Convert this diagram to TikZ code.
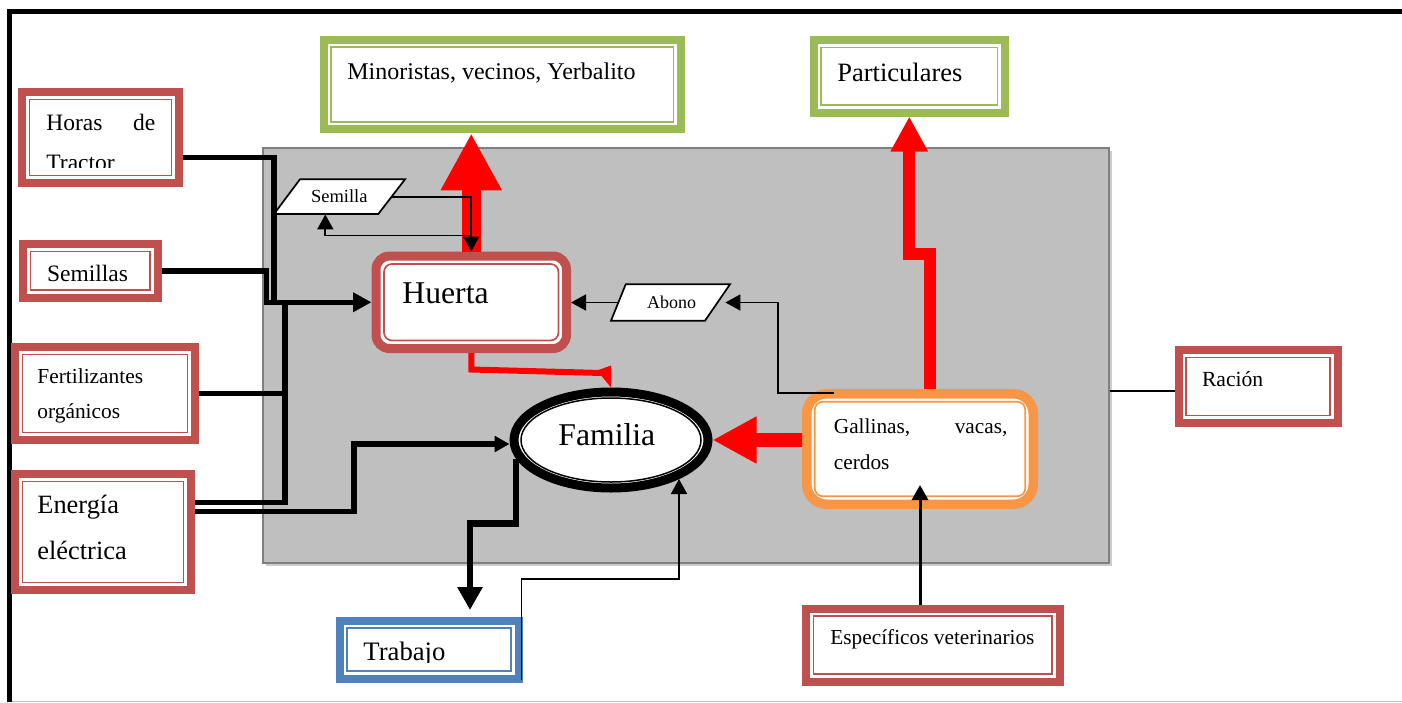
\documentclass[tikz,border=0pt]{standalone}
\usepackage{fontspec}
\setmainfont{Liberation Serif}
\usetikzlibrary{arrows.meta,calc,shadows,shapes.geometric}
\definecolor{boxred}{HTML}{C0504D}
\definecolor{boxgreen}{HTML}{9BBB59}
\definecolor{boxblue}{HTML}{4F81BD}
\definecolor{boxorange}{HTML}{F79646}
\definecolor{flowred}{HTML}{FF0000}
\definecolor{panel}{HTML}{BFBFBF}
\definecolor{panelline}{HTML}{7F7F7F}
\newcommand\txtsize[1]{\fontsize{#1}{#1}\selectfont}

\begin{document}
\begin{tikzpicture}[x=0.5pt,y=-0.5pt,
  % thick outer border with a thin inner line
  framebox/.style={draw=#1, line width=4pt, fill=white, inner sep=0pt, outer sep=2pt,
    path picture={\draw[#1, line width=0.85pt]
      ([shift={(3.8pt,-3.8pt)}]path picture bounding box.north west) rectangle
      ([shift={(-3.8pt,3.8pt)}]path picture bounding box.south east);}},
  roundbox/.style={draw=#1, line width=4.5pt, fill=white, inner sep=0pt, outer sep=2.25pt,
    rounded corners=6.75pt,
    path picture={\draw[#1, line width=0.85pt, rounded corners=4pt]
      ([shift={(4pt,-4pt)}]path picture bounding box.north west) rectangle
      ([shift={(-4pt,4pt)}]path picture bounding box.south east);}},
  panelbox/.style={draw=panelline, line width=1pt, fill=panel, inner sep=0pt, outer sep=0.5pt,
    drop shadow={shadow xshift=1.5pt, shadow yshift=-1.5pt, fill=black!20, opacity=1}},
  txt/.style={inner sep=0pt, anchor=base west},
  thickline/.style={line width=2.75pt},
  thinline/.style={line width=0.85pt},
  thinarrow/.style={thinline, -{Triangle[length=7.5pt,width=8pt]}},
]
\useasboundingbox (0,0) rectangle (1402,702);

% page frame
\draw[black!25, line width=0.75pt] (9.5,701.3) -- (1402,701.3);
\draw[line width=2.65pt] (7,11.7) -- (1402,11.7);
\draw[line width=2.8pt] (9.5,9) -- (9.5,702);

% production system panel
\node[panelbox, minimum width=423pt, minimum height=207.75pt] (sistema) at (686,355.25) {};

% boxes
\node[framebox=boxred, minimum width=78.5pt, minimum height=45.5pt] (horas) at (100.5,137.5) {};
\node[framebox=boxred, minimum width=67.25pt, minimum height=26.75pt] (semillas) at (90.25,270.75) {};
\node[framebox=boxred, minimum width=90pt, minimum height=46.5pt] (fert) at (105,393.5) {};
\node[framebox=boxred, minimum width=88pt, minimum height=58pt] (energia) at (103,532) {};
\node[framebox=boxgreen, minimum width=178.75pt, minimum height=44.9pt] (minoristas) at (502.25,84.4) {};
\node[framebox=boxgreen, minimum width=95.75pt, minimum height=36.25pt] (particulares) at (909.25,76.25) {};
\node[framebox=boxred, minimum width=79.5pt, minimum height=36.5pt] (racion) at (1258,386.5) {};
\node[framebox=boxred, minimum width=126.75pt, minimum height=36.5pt] (especificos) at (932.75,645) {};
\node[framebox=boxblue, minimum width=89.5pt, minimum height=29pt] (trabajo) at (429,649.5) {};
\node[roundbox=boxred, minimum width=95.25pt, minimum height=46.25pt] (huerta) at (471.25,302.25) {};
\node[roundbox=boxorange, line width=4.75pt, outer sep=2.375pt, rounded corners=10pt,
      minimum width=113.25pt, minimum height=55.25pt] (gallinas) at (920,449) {};
\node[ellipse, draw, line width=4.5pt, fill=white, inner sep=0pt, outer sep=2.25pt,
      minimum width=97pt, minimum height=48pt] (familia) at (611,440) {};
\draw[line width=0.75pt] (familia.center) ellipse [x radius=45pt, y radius=21pt];

% data parallelograms
\filldraw[fill=white, line width=0.85pt] (300,179.3) -- (405,179.3) -- (378.3,214) -- (274,214) -- cycle;
\node[inner sep=0pt, minimum width=52.35pt, minimum height=17.35pt, font=\txtsize{9.25}] (semilla) at (339.3,196.65) {Semilla};
\filldraw[fill=white, line width=0.85pt] (625.7,284.3) -- (730,284.3) -- (705,320.7) -- (611,320.7) -- cycle;
\node[inner sep=0pt, minimum width=53.5pt, minimum height=18.2pt, font=\txtsize{9}] (abono) at (671.5,302.5) {Abono};

% box texts
\node[txt, font=\txtsize{11.75}] (horas-t) at (46,130) {\makebox[54.5pt][s]{Horas de}};
\begin{scope}
  \clip (31,100) rectangle (172,167);
  \node[txt, font=\txtsize{11.75}] (horas-t2) at (46,170.6) {Tractor};
\end{scope}
\node[txt, font=\txtsize{11.75}] (semillas-t) at (46.7,281.7) {Semillas};
\node[txt, font=\txtsize{10.7}] (fert-t) at (37,383.3) {Fertilizantes};
\node[txt, font=\txtsize{10.7}] (fert-t2) at (37,418.3) {orgánicos};
\node[txt, font=\txtsize{13.2}] (energia-t) at (37,513.3) {Energía};
\node[txt, font=\txtsize{13.2}] (energia-t2) at (37,559.3) {eléctrica};
\node[txt, font=\txtsize{12}] (minoristas-t) at (347,79) {Minoristas, vecinos, Yerbalito};
\node[txt, font=\txtsize{13.25}] (particulares-t) at (837,81) {Particulares};
\node[txt, font=\txtsize{15.85}] (huerta-t) at (402,303.3) {Huerta};
\node[txt, font=\txtsize{15.85}] (familia-t) at (558,445) {Familia};
\node[txt, font=\txtsize{10.65}] (gallinas-t) at (833.5,433.3) {\makebox[86.75pt][s]{Gallinas, vacas,}};
\node[txt, font=\txtsize{10.65}] (gallinas-t2) at (833.5,469.3) {cerdos};
\node[txt, font=\txtsize{10.8}] (racion-t) at (1201.6,386) {Ración};
\node[txt, font=\txtsize{10.65}] (especificos-t) at (830,644) {Específicos veterinarios};
\begin{scope}
  \clip (345,627) rectangle (512,662);
  \node[txt, font=\txtsize{13.35}] (trabajo-t) at (363,660) {Trabajo};
\end{scope}

% red product flows
\draw[flowred, line width=9.25pt, -{Triangle[length=28.5pt,width=28.5pt]}]
  (huerta.north) -- (huerta.north |- minoristas.south);
\draw[flowred, line width=3pt] (huerta.south) -- ++(0,16.5) -- ($(familia.north)+(-9,-14.5)$);
\fill[flowred] (familia.north) -- ++(0,-22) -- ++(-14,5) -- cycle;
\draw[flowred, line width=6pt, -{Triangle[length=17.5pt,width=17.5pt]}]
  ($(gallinas.north)+(10,0)$) |- ($(particulares.south)+(0,137.5)$) -- (particulares.south);
\draw[flowred, line width=7pt, -{Triangle[length=22pt,width=22pt]}]
  (gallinas.west |- familia.east) -- (familia.east);

% external inputs to the garden
\draw[thickline] ($(horas.east)+(0,20)$) -| ($(huerta.west)+(-97.5,0)$);
\draw[thickline] (fert.east) -- ($(fert.east -| huerta.west)+(-86.5,0)$);
\draw[thickline] ($(energia.east)+(0,-29.5)$) -| ($(huerta.west)+(-86.5,0)$);
\draw[thickline, -{Triangle[length=9.2pt,width=9.3pt]}]
  (semillas.east) -| ($(huerta.west)+(-105,0)$) -- (huerta.west);
\draw[thickline, -{Triangle[length=7.5pt,width=7.8pt]}]
  ($(energia.east)+(0,-20.5)$) -| ($(familia.west)+(-155.5,4)$) -- ($(familia.west)+(0,4)$);

% labour
\draw[line width=3.2pt, -{Triangle[length=11.5pt,width=12pt]}]
  ($(familia.center)+(-95,19)$) |- ($(trabajo.north)+(41,-93)$) -- ($(trabajo.north)+(41,-6.5)$);
\draw[thinarrow] ($(trabajo.south east)+(-1,-2.5)$) |- ($(familia.center)+(68,139)$) -- ($(familia.center)+(68,39)$);

% internal flows
\draw[thinarrow] (semilla.east) -| (huerta.north);
\draw[thinarrow] ($(huerta.north)+(0,-16)$) -| ($(semilla.south)+(-14,0)$);
\draw[thinarrow] ($(gallinas.north west)+(32,3.7)$) -- ($(gallinas.north west)+(-24,3.7)$) |- (abono.east);
\draw[thinarrow] (abono.west) -- (huerta.east |- abono.west);
\draw[line width=1.5pt, -{Triangle[length=7.5pt,width=8pt]}]
  (especificos.north -| gallinas.south) -- ($(gallinas.south)+(0,-24)$);
\draw[thinline] ($(racion.west)+(0,4.5)$) -- ($(sistema.east |- racion.west)+(0,4.5)$);
\end{tikzpicture}
\end{document}
